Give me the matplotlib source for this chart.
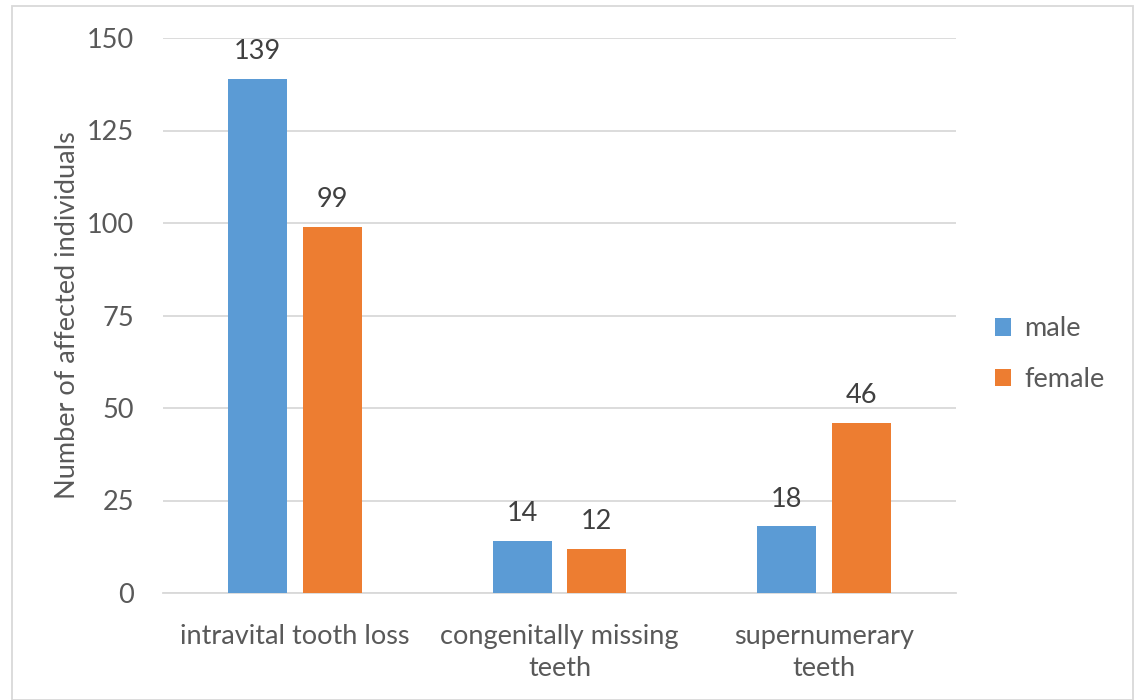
import numpy as np
import matplotlib.pyplot as plt
from matplotlib.patches import Rectangle

# data
categories = ['intravital tooth loss', 'congenitally missing\nteeth', 'supernumerary\nteeth']
male = [139, 14, 18]
female = [99, 12, 46]
yticks = [0, 25, 50, 75, 100, 125, 150]

blue = '#5b9bd5'
orange = '#ed7d31'
txt = '#595959'
fs = 19.5

plt.rcParams['font.family'] = ['Lato', 'DejaVu Sans']

fig = plt.figure(figsize=(11.37, 7), dpi=100)
ax = fig.add_axes([163 / 1137, 107 / 700, 793 / 1137, 555 / 700])

x = np.arange(len(categories))
w = 0.223
off = 0.141
b1 = ax.bar(x - off, male, w, color=blue, label='male', zorder=3)
b2 = ax.bar(x + off, female, w, color=orange, label='female', zorder=3)

for bars in (b1, b2):
    for r in bars:
        ax.text(r.get_x() + r.get_width() / 2, r.get_height() + 4, f'{int(r.get_height())}',
                ha='center', va='bottom', fontsize=fs, color='#404040')

ax.set_xlim(-0.5, 2.5)
ax.set_ylim(0, 150)
ax.set_yticks(yticks)
ax.set_xticks(x)
ax.set_xticklabels(categories, linespacing=1.35)
ax.tick_params(axis='both', length=0, labelsize=fs, labelcolor=txt)
ax.tick_params(axis='y', pad=21)
ax.tick_params(axis='x', pad=22)
ax.grid(axis='y', color='#d9d9d9', linewidth=1.3, zorder=0)
for s in ['top', 'right', 'left']:
    ax.spines[s].set_visible(False)
ax.spines['bottom'].set_color('#d9d9d9')
ax.spines['bottom'].set_linewidth(1.3)
ax.set_ylabel('Number of affected individuals', fontsize=fs, color=txt, labelpad=5)

ax.legend(loc='center left', bbox_to_anchor=(1.018, 0.43), frameon=False, fontsize=fs,
          labelcolor=txt, handlelength=0.6, handleheight=0.6, labelspacing=0.95, handletextpad=0.5)

fig.patches.append(Rectangle((12 / 1137, 0), 1121 / 1137, 694 / 700, transform=fig.transFigure,
                             fill=False, edgecolor='#d9d9d9', linewidth=1.3))

fig.savefig('out.png', dpi=100)
